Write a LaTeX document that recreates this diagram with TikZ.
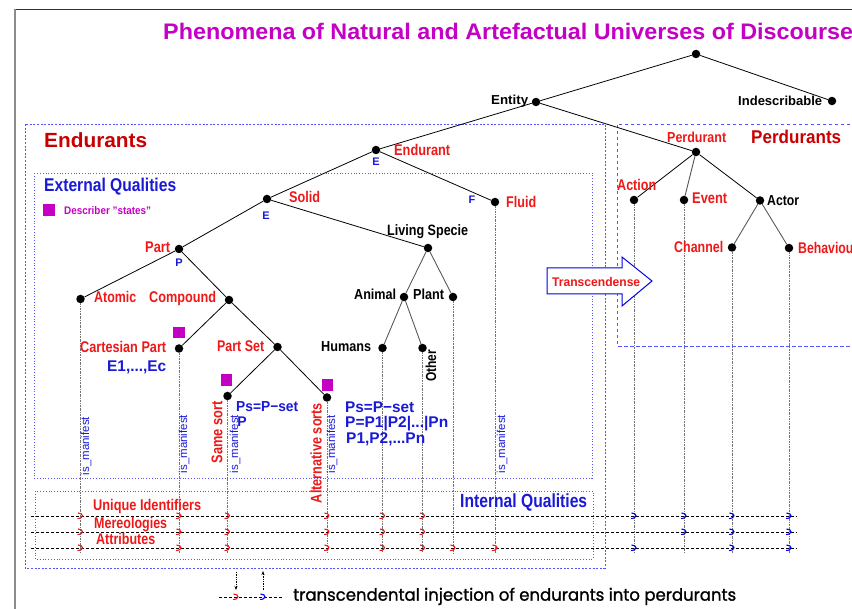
\documentclass[tikz,border=0pt]{standalone}
\usepackage{fontspec}
\setmainfont{Liberation Sans}
\newfontfamily\legendfont[FakeBold=1.2]{Poppins}
\usepackage{graphicx}
\usetikzlibrary{arrows.meta}
\definecolor{lred}{RGB}{238,24,24}
\definecolor{dred}{RGB}{200,0,0}
\definecolor{lblue}{RGB}{25,25,215}
\definecolor{bblue}{RGB}{85,85,255}
\definecolor{mag}{RGB}{195,0,195}
\newcommand{\lab}[7][]{\node[anchor=base west,inner sep=0pt,yshift={-0.358*#5pt},#1] (#2) at (#3,#4) {\resizebox{#6pt}{\height}{\fontsize{#5pt}{#5pt}\selectfont\bfseries #7}};}
\newcommand{\rlab}[7][]{\node[rotate=90,inner sep=0pt,anchor=center,#1] (#2) at (#3,#4) {\resizebox{#6pt}{\height}{\fontsize{#5pt}{#5pt}\selectfont #7}};}
\newcommand{\mk}[3]{\draw[#1, line width=1.1pt, shift={(#2,#3)}] (-2.5,-3) .. controls (3.5,-3) and (3.5,2.5) .. (-3,2.5);}
\tikzset{
  dot/.style={circle, fill=black, inner sep=0pt, minimum size=8.5pt},
  edge/.style={black, line width=0.8pt},
  gedge/.style={black!65, line width=0.9pt},
  vline/.style={black!55, line width=1pt, dash pattern=on 2pt off 1pt on 0.6pt off 1pt},
  hline/.style={black, line width=0.7pt, dash pattern=on 3pt off 2pt},
  msq/.style={fill=mag, inner sep=0pt, minimum size=11.5pt},
  smallb/.style={text=lblue, font=\fontsize{11pt}{11pt}\selectfont\bfseries, inner sep=0pt}
}
\begin{document}
\begin{tikzpicture}[x=1pt,y=-1pt]
\useasboundingbox (0,0) rectangle (852,609);
% frame
\draw[black!80, line width=0.8pt] (14,9) -- (870,9);
\draw[black!45, line width=1.6pt] (15,9) -- (15,620);
% boxes
\draw[bblue, line width=0.9pt, dash pattern=on 2pt off 1.6pt] (25,124) rectangle (605,568);
\draw[bblue, line width=0.9pt, dash pattern=on 3.5pt off 2.5pt] (880,124) -- (617,124) -- (617,346) -- (880,346);
\draw[bblue, line width=0.8pt, dotted] (34,173) rectangle (592,478);
\draw[bblue, line width=0.8pt, dotted] (35,491) rectangle (593,559);
% tree dots
\node[dot] (root) at (696,54) {};
\node[dot] (entity) at (536,102) {};
\node[dot] (indesc) at (832,101) {};
\node[dot] (endurant) at (376,150) {};
\node[dot] (perdurant) at (696,152) {};
\node[dot] (solid) at (267,199) {};
\node[dot] (fluid) at (495,202) {};
\node[dot] (living) at (428,248) {};
\node[dot] (part) at (179,249) {};
\node[dot] (atomic) at (80.5,299) {};
\node[dot] (compound) at (229,300) {};
\node[dot] (animal) at (404,297) {};
\node[dot] (plant) at (453,297) {};
\node[dot] (cartesian) at (179,348.5) {};
\node[dot] (partset) at (277.5,347) {};
\node[dot] (humans) at (382.5,348) {};
\node[dot] (other) at (422.5,348) {};
\node[dot] (samesort) at (227.5,396) {};
\node[dot] (altsorts) at (327,397.5) {};
\node[dot] (action) at (634,200) {};
\node[dot] (event) at (684,200) {};
\node[dot] (actor) at (760,200.5) {};
\node[dot] (channel) at (732,247.5) {};
\node[dot] (behaviour) at (789,248) {};
\coordinate (vbot) at (0,553);
% vertical leaf lines
\foreach \n in {atomic,cartesian,samesort,altsorts,humans,other,plant,fluid,action,event,channel,behaviour}
  \draw[vline] (\n) -- (\n |- vbot);
% horizontal quality lines
\coordinate (h1a) at (31,516); \coordinate (h1b) at (797,516);
\coordinate (h2a) at (31,532); \coordinate (h2b) at (797,532);
\coordinate (h3a) at (31,548); \coordinate (h3b) at (797,548);
\draw[hline] (h1a) -- (h1b);
\draw[hline] (h2a) -- (h2b);
\draw[hline] (h3a) -- (h3b);
% markers
\foreach \y in {516,532,548}{
  \foreach \x in {80.5,179,227.5,327,382.5,422.5} { \mk{lred}{\x}{\y} }
}
\mk{lred}{453}{548} \mk{lred}{495}{548}
\foreach \x in {634,684,732,789} { \mk{blue}{\x}{516} }
\foreach \x in {684,732,789} { \mk{blue}{\x}{532} }
\foreach \x in {634,732,789} { \mk{blue}{\x}{548} }
% edges
\draw[edge] (root) -- (entity);
\draw[edge] (root) -- (indesc);
\draw[edge] (entity) -- (endurant);
\draw[edge] (entity) -- (perdurant);
\draw[edge] (endurant) -- (solid);
\draw[edge] (endurant) -- (fluid);
\draw[edge] (solid) -- (part);
\draw[edge] (solid) -- (living);
\draw[edge] (part) -- (atomic);
\draw[edge] (part) -- (compound);
\draw[edge] (compound) -- (cartesian);
\draw[edge] (compound) -- (partset);
\draw[edge] (partset) -- (samesort);
\draw[edge] (partset) -- (altsorts);
\draw[gedge] (living) -- (animal);
\draw[gedge] (living) -- (plant);
\draw[gedge] (animal) -- (humans);
\draw[gedge] (animal) -- (other);
\draw[edge] (perdurant) -- (action);
\draw[gedge] (perdurant) -- (event);
\draw[edge] (perdurant) -- (actor);
\draw[gedge] (actor) -- (channel);
\draw[gedge] (actor) -- (behaviour);
% magenta squares
\node[msq] (sqleg) at (49,210) {};
\node[msq] (sqcart) at (179,332.7) {};
\node[msq] (sqsame) at (226.5,380) {};
\node[msq] (sqalt) at (327.5,385) {};
% transcendense arrow
\draw[blue!90!black, line width=1pt, fill=white] (547,268) -- (622,268) -- (622,257) -- (652,281) -- (622,306) -- (622,294) -- (547,294) -- cycle;
\lab[text=lred]{ltrans}{552}{282.5}{12.5}{88}{Transcendense}
% labels
\lab[text=mag]{title}{163}{31}{22.5}{690}{Phenomena of Natural and Artefactual Universes of Discourse}
\lab{lentity}{491}{100}{13}{37}{Entity}
\lab{lindesc}{738}{101}{13}{84}{Indescribable}
\lab[text=dred]{lendurants}{44}{140}{20.5}{103}{Endurants}
\lab[text=dred]{lperdurants}{751}{137}{18.5}{90}{Perdurants}
\lab[text=lred]{lendurant}{394}{150}{15.5}{56}{Endurant}
\lab[text=lred]{lperdurant}{667}{137}{14.5}{59}{Perdurant}
\lab[text=lblue]{lext}{44}{185}{18.5}{132}{External Qualities}
\lab[text=mag]{ldesc}{64}{211}{11}{87}{Describer "states"}
\lab[text=lred]{lsolid}{289}{196.5}{15.5}{31}{Solid}
\lab[text=lred]{lfluid}{506}{202}{15.5}{30}{Fluid}
\lab{lliving}{387}{230}{15}{81}{Living Specie}
\lab[text=lred]{lpart}{145}{247}{15.5}{25}{Part}
\lab[text=lred]{latomic}{94}{297}{15.5}{42}{Atomic}
\lab[text=lred]{lcompound}{149}{297}{15.5}{67}{Compound}
\lab{lanimal}{354}{294.5}{14.5}{42}{Animal}
\lab{lplant}{413}{294.5}{14.5}{31}{Plant}
\lab[text=lred]{lcart}{80}{347}{15.5}{86}{Cartesian Part}
\lab[text=lblue]{le1}{107}{366}{15.5}{59}{E1,...,Ec}
\lab[text=lred]{lpartset}{217}{346}{15.5}{47}{Part Set}
\lab{lhumans}{321}{346}{14.5}{50}{Humans}
\lab[text=lblue]{lps1}{236}{406}{14.5}{62}{Ps=P−set}
\lab[text=lblue]{lps2}{345}{407}{15.5}{69}{Ps=P−set}
\lab[text=lblue]{lpeq}{345}{421.5}{15.5}{103}{P=P1|P2|...|Pn}
\lab[text=lblue]{lp1}{346}{437.5}{15.5}{79}{P1,P2,...Pn}
\lab[text=lred]{luid}{93}{505}{15.5}{108}{Unique Identifiers}
\lab[text=lred]{lmer}{94}{522.5}{15.5}{73}{Mereologies}
\lab[text=lred]{lattr}{96}{539}{15.5}{59}{Attributes}
\lab[text=lblue]{lint}{460}{500.5}{19}{127}{Internal Qualities}
\lab[text=lred]{laction}{617}{185}{15.5}{39}{Action}
\lab[text=lred]{levent}{692}{198}{15.5}{35}{Event}
\lab{lactor}{767}{200}{14.5}{32}{Actor}
\lab[text=lred]{lchannel}{674}{247}{15.5}{49}{Channel}
\lab[text=lred]{lbehav}{798}{248}{15.5}{60}{Behaviour}
\node[smallb] (eE1) at (376,162) {E};
\node[smallb] (eE2) at (266,216) {E};
\node[smallb] (eP) at (179,263) {P};
\node[smallb] (eF) at (472,200) {F};
\node[text=lblue, font=\fontsize{14pt}{14pt}\selectfont\bfseries, inner sep=0pt] (eP2) at (242,422) {P};
% rotated labels
\rlab[text=black]{lother}{431}{366}{14.5}{32}{\bfseries Other}
\rlab[text=lred]{lsame}{217}{432.5}{15.5}{62}{\bfseries Same sort}
\rlab[text=lred]{lalt}{316}{453}{15.5}{100}{\bfseries Alternative sorts}
\rlab[text=lblue]{im1}{86}{446}{11.5}{58}{is\_manifest}
\rlab[text=lblue]{im2}{184}{444}{11.5}{58}{is\_manifest}
\rlab[text=lblue]{im3}{235}{444}{11.5}{58}{is\_manifest}
\rlab[text=lblue]{im4}{332}{444.5}{11.5}{58}{is\_manifest}
\rlab[text=lblue]{im5}{502}{444}{11.5}{58}{is\_manifest}
% legend
\coordinate (lg1) at (219,597); \coordinate (lg2) at (282,597);
\draw[hline] (lg1) -- (lg2);
\mk{lred}{236}{597} \mk{blue}{263}{597}
\coordinate (a1) at (236,572); \coordinate (a2) at (236,590);
\coordinate (b1) at (263,590); \coordinate (b2) at (263,571);
\draw[black, line width=0.7pt, densely dotted, -{Stealth[length=4pt,width=3pt]}] (a1) -- (a2);
\draw[black, line width=0.7pt, densely dotted, -{Stealth[length=4pt,width=3pt]}] (b1) -- (b2);
\node[anchor=base west, inner sep=0pt] (legend) at (293,600.7) {\resizebox{443pt}{\height}{\legendfont\fontsize{17pt}{17pt}\selectfont transcendental injection of endurants into perdurants}};
\end{tikzpicture}
\end{document}
